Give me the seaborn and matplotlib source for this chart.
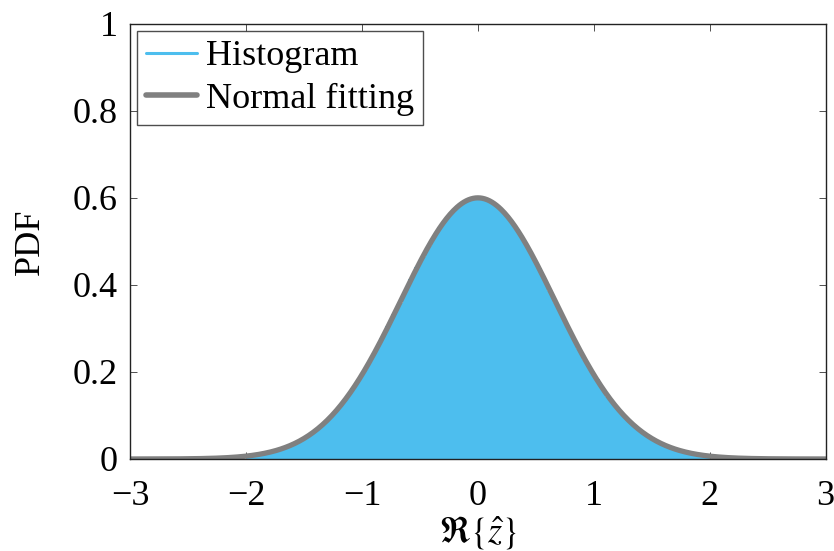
import numpy as np
import pandas as pd
import matplotlib
matplotlib.use("Agg")
import matplotlib.pyplot as plt
import seaborn as sns
from matplotlib.lines import Line2D

# Histogram: bin range and heights (bin width 0.05)
bin_start = -2.0
bin_width = 0.05
hist_heights = [
    # -2.00 .. -1.00
    0.007, 0.009, 0.011, 0.014, 0.017, 0.021, 0.025, 0.030, 0.036, 0.044,
    0.051, 0.061, 0.071, 0.083, 0.095, 0.111, 0.126, 0.144, 0.163, 0.183,
    # -1.00 .. 0.00
    0.205, 0.229, 0.252, 0.278, 0.305, 0.332, 0.359, 0.386, 0.413, 0.440,
    0.465, 0.490, 0.512, 0.533, 0.551, 0.567, 0.580, 0.590, 0.597, 0.601,
    # 0.00 .. 1.00
    0.600, 0.596, 0.589, 0.579, 0.566, 0.551, 0.532, 0.512, 0.489, 0.464,
    0.439, 0.412, 0.386, 0.358, 0.330, 0.304, 0.278, 0.252, 0.228, 0.205,
    # 1.00 .. 2.00
    0.183, 0.162, 0.143, 0.126, 0.110, 0.095, 0.082, 0.071, 0.060, 0.051,
    0.043, 0.036, 0.030, 0.025, 0.021, 0.017, 0.014, 0.011, 0.009, 0.007,
]

# Normal fit parameters
fit_mu = 0.0
fit_sigma = 0.665

xticks = [-3, -2, -1, 0, 1, 2, 3]
yticks = [0, 0.2, 0.4, 0.6, 0.8, 1]
ytick_labels = ["0", "0.2", "0.4", "0.6", "0.8", "1"]

sns.set_theme(style="white")
plt.rcParams['font.family'] = ['Liberation Serif', 'DejaVu Serif']
plt.rcParams['font.serif'] = ['Liberation Serif', 'DejaVu Serif']
plt.rcParams['mathtext.fontset'] = 'stix'
plt.rcParams['text.color'] = 'black'
plt.rcParams['axes.labelcolor'] = 'black'
plt.rcParams['xtick.color'] = 'black'
plt.rcParams['ytick.color'] = 'black'

serif = ['Liberation Serif', 'DejaVu Serif']
blue = "#4DBEEE"
gray = "#808080"

fig = plt.figure(figsize=(8.34, 5.51), dpi=100)
ax = fig.add_axes([0.156, 0.167, 0.834, 0.790])

n = len(hist_heights)
bin_centers = [bin_start + bin_width * (i + 0.5) for i in range(n)]
df = pd.DataFrame({"x": bin_centers, "h": hist_heights})
sns.histplot(data=df, x="x", weights="h", binwidth=bin_width,
             binrange=(bin_start, bin_start + bin_width * n),
             ax=ax, color=blue, linewidth=0, alpha=1.0, stat="count")

xs = np.linspace(-3, 3, 601)
pdf = np.exp(-0.5 * ((xs - fit_mu) / fit_sigma) ** 2) / (fit_sigma * np.sqrt(2 * np.pi))
sns.lineplot(x=xs, y=pdf, ax=ax, color=gray, linewidth=3.8)

ax.set_xlim(-3, 3)
ax.set_ylim(0, 1)
ax.set_xticks(xticks)
ax.set_xticklabels([f"\u2212{abs(t)}" if t < 0 else str(t) for t in xticks],
                   family=serif, fontsize=26, color='black')
ax.set_yticks(yticks)
ax.set_yticklabels(ytick_labels, family=serif, fontsize=26, color='black')
ax.tick_params(direction='in', length=5, width=0.6, colors='#333333',
               labelcolor='black', top=True, right=True,
               bottom=True, left=True)
ax.tick_params(axis='x', pad=15)
ax.tick_params(axis='y', pad=9)
for s in ax.spines.values():
    s.set_color('#222222')
    s.set_linewidth(1.0)

ax.set_xlabel(r'$\Re\{\hat{z}\}$', fontsize=26, labelpad=1, color='black')
ax.set_ylabel('PDF', fontsize=26, labelpad=18, family=serif, color='black')

handles = [Line2D([0], [0], color=blue, lw=2.2),
           Line2D([0], [0], color=gray, lw=4)]
leg = ax.legend(handles, ['Histogram', 'Normal fitting'], loc='upper left',
                prop={'family': serif, 'size': 26}, frameon=True, fancybox=False,
                borderaxespad=0.2, handlelength=1.4, handletextpad=0.25,
                labelspacing=0.25, borderpad=0.25, labelcolor='black')
leg.get_frame().set_edgecolor('#222222')
leg.get_frame().set_linewidth(1.0)

fig.savefig('out.png', dpi=100)
